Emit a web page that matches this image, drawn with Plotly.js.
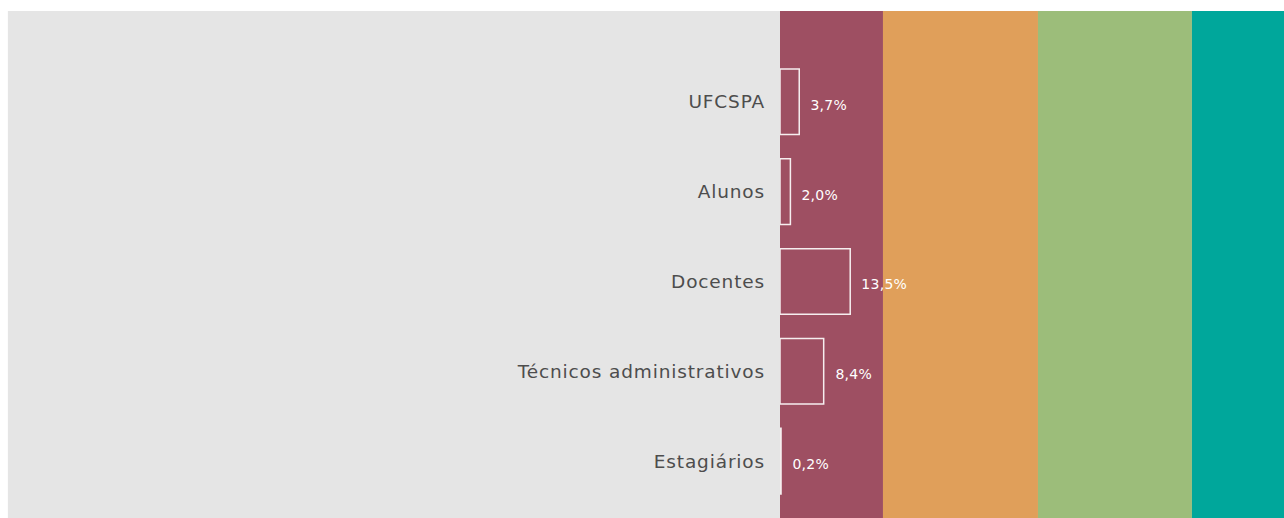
<!DOCTYPE html>
<html>
<head>
<meta charset="utf-8">
<script src="https://cdn.plot.ly/plotly-3.0.1.min.js"></script>
<style>html,body{margin:0;padding:0;background:#fff;}#chart{width:1284px;height:518px;}
#chart .ytick text{letter-spacing:0.85px;}
#chart .annotation-text{letter-spacing:0.3px;}</style>
</head>
<body>
<div id="chart"></div>
<script>
const categories = ["UFCSPA", "Alunos", "Docentes", "Técnicos administrativos", "Estagiários"];
const values = [3.7, 2.0, 13.5, 8.4, 0.2];
const bandEdges = [0, 19.8, 49.6, 79.2, 96.9];
const bandColors = ["#9E4F62", "#E09F5A", "#9CBD7A", "#00A79B"];

const shapes = [{
  type: "rect", xref: "paper", yref: "paper",
  x0: -1.532, x1: 0, y0: 0, y1: 1,
  fillcolor: "#E5E5E5", line: {width: 0}, layer: "below"
}];
for (let i = 0; i < bandColors.length; i++) {
  shapes.push({
    type: "rect", xref: "x", yref: "paper",
    x0: bandEdges[i], x1: bandEdges[i + 1], y0: 0, y1: 1,
    fillcolor: bandColors[i], line: {width: 0}, layer: "below"
  });
}

const annotations = categories.map((c, i) => ({
  x: values[i], y: c, xref: "x", yref: "y",
  text: values[i].toFixed(1).replace(".", ",") + "%",
  showarrow: false, xanchor: "left", yanchor: "middle", xshift: 10, yshift: -3,
  font: {family: "DejaVu Sans, sans-serif", size: 14, color: "#ffffff"}
}));

const trace = {
  type: "bar", orientation: "h",
  x: values, y: categories,
  width: 0.73,
  marker: {color: "rgba(0,0,0,0)", line: {color: "rgba(255,255,255,0.9)", width: 1.5}},
  hoverinfo: "skip", cliponaxis: false
};

const layout = {
  width: 1284, height: 518,
  margin: {l: 780, r: 0, t: 11, b: 0, pad: 0},
  paper_bgcolor: "#ffffff", plot_bgcolor: "rgba(0,0,0,0)",
  separators: ",.",
  showlegend: false,
  xaxis: {range: [bandEdges[0], bandEdges[bandEdges.length - 1]], visible: false, fixedrange: true},
  yaxis: {
    type: "category", categoryorder: "array", categoryarray: categories,
    range: [4.633, -1.011], showgrid: false, zeroline: false, showline: false,
    ticks: "", ticklabelstandoff: 14,
    tickfont: {family: "DejaVu Sans, sans-serif", size: 18.5, color: "#4d4d4d"}
  },
  shapes: shapes,
  annotations: annotations
};

Plotly.newPlot("chart", [trace], layout, {displayModeBar: false, staticPlot: true});
</script>
</body>
</html>
